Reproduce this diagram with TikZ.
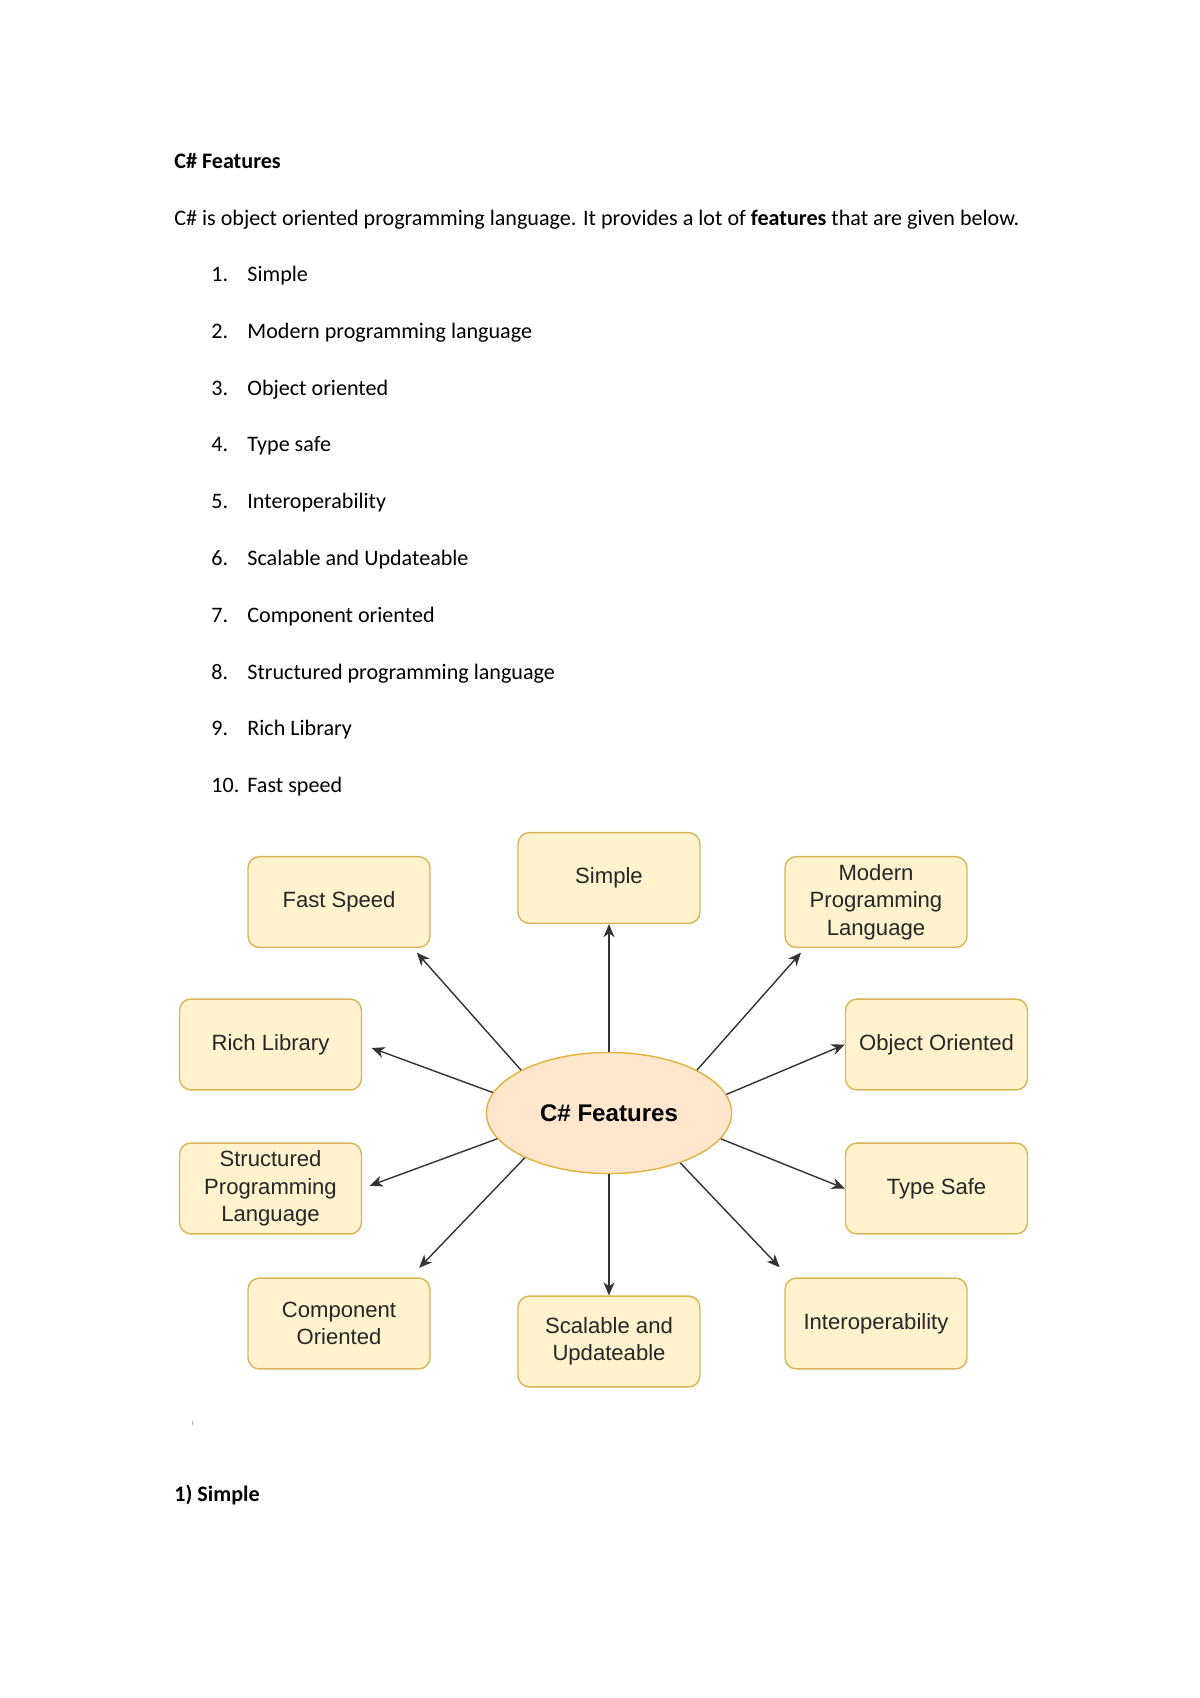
\documentclass[tikz,border=0pt]{standalone}
\usepackage{fontspec}
\setmainfont{Carlito}
\newfontfamily\diagfont{Liberation Sans}
\usetikzlibrary{shapes.geometric,arrows.meta}

\definecolor{boxfill}{HTML}{FFF2CC}
\definecolor{boxline}{HTML}{D6B656}
\definecolor{hubfill}{HTML}{FFE6CC}
\definecolor{hubline}{HTML}{E3B23C}
\definecolor{arrowgray}{HTML}{333333}

\begin{document}
\begin{tikzpicture}[
    x=0.0175cm, y=-0.0175cm,
    pagetext/.style={anchor=base west, inner sep=0, font=\fontsize{11pt}{13pt}\selectfont},
    feature/.style={draw=boxline, fill=boxfill, rectangle, rounded corners=2mm, line width=0.7pt,
        minimum width=3.185cm, minimum height=1.59cm, align=center,
        font=\diagfont\fontsize{11pt}{13.7pt}\selectfont, text=black!85},
    hub/.style={draw=hubline, fill=hubfill, ellipse, line width=0.7pt, inner sep=0,
        minimum width=4.29cm, minimum height=2.12cm, font=\diagfont\bfseries\fontsize{12pt}{14pt}\selectfont},
    arrow/.style={-{Stealth[length=6.5pt,width=5.5pt,inset=2pt]}, line width=0.7pt, draw=arrowgray}
]
\fill[white] (0,0) rectangle (1200,1698);
\useasboundingbox (0,0) rectangle (1200,1698);

% Page text
\node[pagetext] (title) at (174,168) {\textbf{C\# Features}};
\node[pagetext] (intro) at (174,225) {C\# is object oriented programming language. It provides a lot of \textbf{features} that are given below.};
\foreach \num/\item [count=\k] in {1/Simple, 2/Modern programming language, 3/Object oriented, 4/Type safe,
    5/Interoperability, 6/Scalable and Updateable, 7/Component oriented,
    8/Structured programming language, 9/Rich Library, 10/Fast speed} {
  \node[pagetext] (num\k) at (211,{281.5+56.8*(\k-1)}) {\num.};
  \node[pagetext] (item\k) at (247,{281.5+56.8*(\k-1)}) {\item};
}
\draw[gray!60, line width=0.3pt] (192,1421) -- (192,1425);
\node[pagetext] (next) at (174,1501) {\textbf{1) Simple}};

% Centre of the diagram
\node[hub] (hub) at (609,1113) {C\# Features};

% Feature boxes
\node[feature] (simple) at (609,878) {Simple};
\node[feature] (fast) at (339,902) {Fast Speed};
\node[feature] (modern) at (876,902) {Modern\\Programming\\Language};
\node[feature] (rich) at (270.5,1044.5) {Rich Library};
\node[feature] (object) at (936.5,1044.5) {Object Oriented};
\node[feature] (structured) at (270.5,1188.5) {Structured\\Programming\\Language};
\node[feature] (typesafe) at (936.5,1188.5) {Type Safe};
\node[feature] (component) at (339,1323.5) {Component\\Oriented};
\node[feature] (scalable) at (609,1341.5) {Scalable and\\Updateable};
\node[feature] (interop) at (876,1323.5) {Interoperability};

% Arrows from the centre to every feature
\draw[arrow] (hub.north) -- (simple.south);
\draw[arrow, shorten >=3pt] (hub.154) -- (fast.-32.5);
\draw[arrow, shorten >=3pt] (hub.26.8) -- (modern.-147.9);
\draw[arrow, shorten >=5pt] (hub.170.8) -- (rich.east);
\draw[arrow] (hub.9.3) -- (object.west);
\draw[arrow, shorten >=4pt] (hub.-167.3) -- (structured.east);
\draw[arrow] (hub.-13) -- (typesafe.west);
\draw[arrow, shorten >=6.6pt] (hub.-152.2) -- (component.33.3);
\draw[arrow] (hub.south) -- (scalable.north);
\draw[arrow, shorten >=6.9pt] (hub.-35.2) -- (interop.152);
\end{tikzpicture}
\end{document}
